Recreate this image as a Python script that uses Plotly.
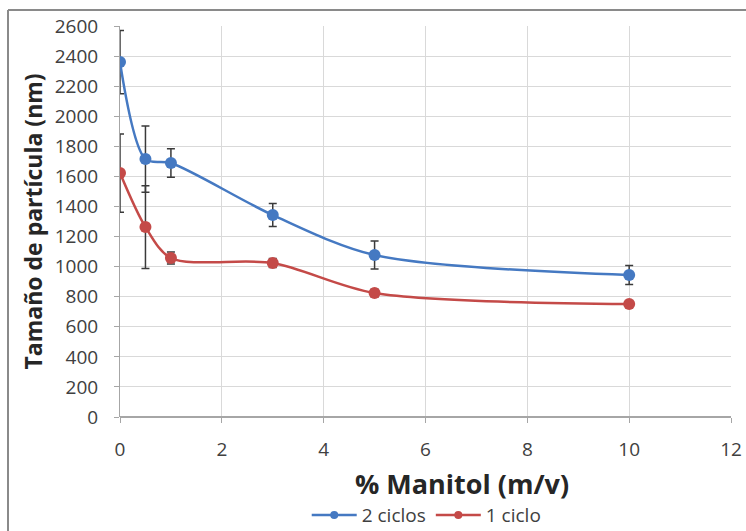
import plotly.graph_objects as go

# Particle size vs. mannitol concentration
manitol = [0, 0.5, 1, 3, 5, 10]

dos_ciclos = [2360, 1715, 1689, 1343, 1077, 944]
dos_ciclos_err = [210, 220, 95, 77, 93, 63]

un_ciclo = [1622, 1263, 1057, 1024, 824, 751]
un_ciclo_err = [260, 275, 40, 30, 25, 20]

x_ticks = [0, 2, 4, 6, 8, 10, 12]
y_ticks = list(range(0, 2601, 200))

x_title = "% Manitol (m/v)"
y_title = "Tamaño de partícula (nm)"

BLUE = "#4579c2"
RED = "#c44a48"
ERR = "#3a3a3a"
TICK_FONT = "'Open Sans', Lato, sans-serif"
TITLE_FONT = "'Open Sans', Lato, sans-serif"

series = [
    ("2 ciclos", dos_ciclos, dos_ciclos_err, BLUE),
    ("1 ciclo", un_ciclo, un_ciclo_err, RED),
]

fig = go.Figure()

for name, values, errors, color in series:
    fig.add_trace(go.Scatter(
        x=manitol, y=values, name=name, legendgroup=name, showlegend=False,
        mode="lines+markers",
        line=dict(color=color, width=2.5, shape="spline", smoothing=0.85),
        marker=dict(color=color, size=12),
        error_y=dict(type="data", array=errors, color=ERR, thickness=1.5, width=4),
    ))
    # legend entry with a smaller marker glyph
    fig.add_trace(go.Scatter(
        x=[None], y=[None], name=name, legendgroup=name,
        mode="lines+markers",
        line=dict(color=color, width=2.5),
        marker=dict(color=color, size=8),
    ))

# Outer chart frame (top and left edges)
frame = dict(type="line", xref="paper", yref="paper", line=dict(color="#8a8a8a", width=2))
fig.add_shape(**frame, x0=-0.1833, x1=1.05, y0=1.041, y1=1.041)
fig.add_shape(**frame, x0=-0.1833, x1=-0.1833, y0=-0.32, y1=1.041)

# Axis titles
fig.add_annotation(
    text=f"<b>{x_title}</b>", xref="paper", yref="paper",
    x=0.56, y=-0.171, xanchor="center", yanchor="middle", showarrow=False,
    font=dict(family=TITLE_FONT, size=27, color="#262626"),
)
fig.add_annotation(
    text=f"<b>{y_title}</b>", xref="paper", yref="paper",
    x=-0.1424, y=0.50, xanchor="center", yanchor="middle", showarrow=False,
    textangle=-90,
    font=dict(family=TITLE_FONT, size=23, color="#262626"),
)

fig.update_layout(
    width=746, height=531,
    margin=dict(l=120, r=15, t=26, b=114),
    paper_bgcolor="white", plot_bgcolor="white",
    font=dict(family=TICK_FONT, color="#404040", size=16),
    showlegend=True,
    legend=dict(
        orientation="h", xref="paper", x=0.502, xanchor="center",
        yref="container", y=0.03, yanchor="middle",
        font=dict(family=TICK_FONT, size=19, color="#404040"),
        itemwidth=45, tracegroupgap=0,
    ),
    xaxis=dict(
        range=[0, 12], tickvals=x_ticks, ticktext=[str(v) for v in x_ticks],
        showgrid=True, gridcolor="#d9d9d9", gridwidth=1,
        showline=False, zeroline=False, automargin=False,
        ticks="outside", ticklen=5, tickcolor="#a6a6a6",
        ticklabelstandoff=10,
        tickfont=dict(size=19, color="#404040"),
    ),
    yaxis=dict(
        range=[0, 2600], tickvals=y_ticks,
        showgrid=True, gridcolor="#d9d9d9", gridwidth=1,
        showline=True, linecolor="#a6a6a6", linewidth=1,
        zeroline=True, zerolinecolor="#a6a6a6", zerolinewidth=2,
        automargin=False,
        ticks="outside", ticklen=5, tickcolor="#a6a6a6",
        ticklabelstandoff=12,
        tickfont=dict(size=19, color="#404040"),
    ),
)

fig.write_html("out.html")
